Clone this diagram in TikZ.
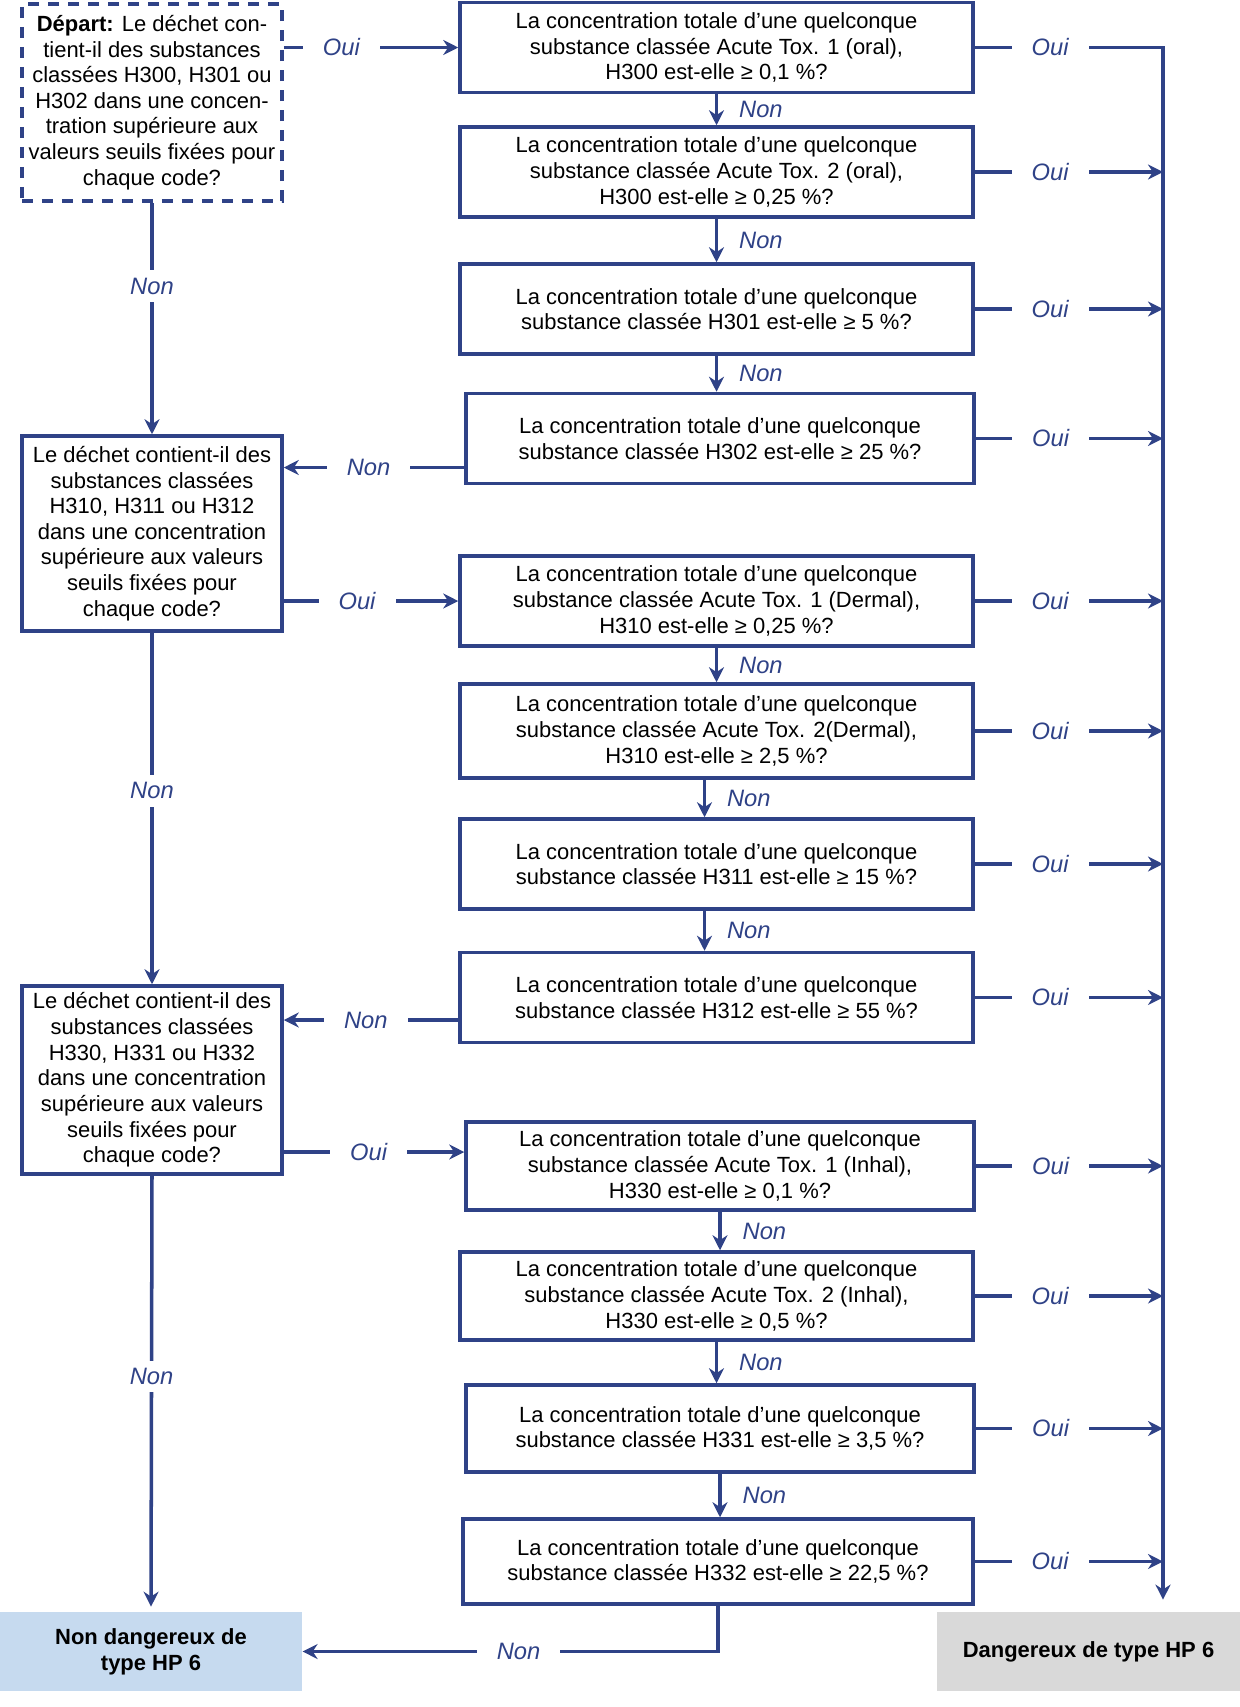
\documentclass[tikz,border=0pt]{standalone}
\usepackage{fontspec}
\setmainfont{Liberation Sans}
\usepackage{xcolor}
\usepackage{tikz}
\usetikzlibrary{arrows.meta,positioning,calc}
\definecolor{navy}{RGB}{47,66,135}
\definecolor{paleblue}{RGB}{198,218,239}
\definecolor{palegray}{RGB}{217,217,217}
\newcommand{\conc}{La concentration totale d’une quelconque\\substance classée}

\begin{document}
\begin{tikzpicture}[font=\fontsize{12.5}{14.6}\selectfont, box/.style={draw=navy, line width=2pt, align=center, minimum width=10.26cm, minimum height=1.8cm, inner sep=2pt}, qbox/.style={box, minimum width=5.2cm}, endbox/.style={align=center, font=\fontsize{12.5}{14.6}\selectfont\bfseries, minimum width=6.05cm, minimum height=1.58cm}, arr/.style={-{Stealth[length=0.3cm,width=0.3cm]}, draw=navy, line width=2pt}, lbl/.style={fill=white, text=navy, font=\fontsize{13.5}{16}\selectfont\itshape, inner xsep=0.4cm, inner ysep=0.15cm}, nlbl/.style={right, xshift=0.3cm, text=navy, font=\fontsize{13.5}{16}\selectfont\itshape}]
\useasboundingbox (0,0) rectangle (24.8,-34.14);
\coordinate (rail) at (23.26,0);
\node[qbox, dash pattern=on 0.22cm off 0.18cm, minimum height=3.94cm] (q0) at (3.04,-2.05) {\textbf{Départ:} Le déchet con-\\tient-il des substances\\classées H300, H301 ou\\H302 dans une concen-\\tration supérieure aux\\valeurs seuils fixées pour\\chaque code?};
\node[qbox, minimum height=3.9cm] (q2) at (3.04,-10.67) {Le déchet contient-il des\\substances classées\\H310, H311 ou H312\\dans une concentration\\supérieure aux valeurs\\seuils fixées pour\\chaque code?};
\node[qbox, minimum height=3.76cm] (q3) at (3.04,-21.6) {Le déchet contient-il des\\substances classées\\H330, H331 ou H332\\dans une concentration\\supérieure aux valeurs\\seuils fixées pour\\chaque code?};
\node[box] (b1) at (14.33,-0.95) {\conc{} Acute Tox. 1 (oral),\\H300 est-elle ≥ 0,1 \%?};
\node[box] (b2) at (14.33,-3.44) {\conc{} Acute Tox. 2 (oral),\\H300 est-elle ≥ 0,25 \%?};
\node[box] (b3) at (14.33,-6.18) {\conc{} H301 est-elle ≥ 5 \%?};
\node[box, minimum width=10.16cm] (b4) at (14.4,-8.77) {\conc{} H302 est-elle ≥ 25 \%?};
\node[box] (b5) at (14.33,-12.02) {\conc{} Acute Tox. 1 (Dermal),\\H310 est-elle ≥ 0,25 \%?};
\node[box, minimum height=1.88cm] (b6) at (14.33,-14.62) {\conc{} Acute Tox. 2(Dermal),\\H310 est-elle ≥ 2,5 \%?};
\node[box] (b7) at (14.33,-17.28) {\conc{} H311 est-elle ≥ 15 \%?};
\node[box] (b8) at (14.33,-19.95) {\conc{} H312 est-elle ≥ 55 \%?};
\node[box, minimum width=10.16cm, minimum height=1.76cm] (b9) at (14.4,-23.32) {\conc{} Acute Tox. 1 (Inhal),\\H330 est-elle ≥ 0,1 \%?};
\node[box, minimum height=1.76cm] (b10) at (14.33,-25.92) {\conc{} Acute Tox. 2 (Inhal),\\H330 est-elle ≥ 0,5 \%?};
\node[box, minimum width=10.16cm, minimum height=1.74cm] (b11) at (14.4,-28.57) {\conc{} H331 est-elle ≥ 3,5 \%?};
\node[box, minimum width=10.2cm, minimum height=1.7cm] (b12) at (14.36,-31.23) {\conc{} H332 est-elle ≥ 22,5 \%?};
\node[endbox, fill=paleblue] (nd) at (3.02,-33.03) {Non dangereux de\\type HP 6};
\node[endbox, fill=palegray] (dg) at (21.77,-33.03) {Dangereux de type HP 6};
\draw[arr] (q0.east |- b1.west) -- node[lbl, pos=.33] {Oui} (b1.west);
\draw[arr] (q2.east |- b5.west) -- node[lbl, pos=.42] {Oui} (b5.west);
\draw[arr] ([yshift=0.28cm]q3.east |- b9.west) -- node[lbl, pos=.47] {Oui} ([yshift=0.28cm]b9.west);
\draw[arr] ([yshift=-0.58cm]b4.west) -- node[lbl, pos=.53] {Non} ([yshift=-0.58cm]b4.west -| q2.east);
\draw[arr] ([yshift=-0.45cm]b8.west) -- node[lbl, pos=.53] {Non} ([yshift=-0.45cm]b8.west -| q3.east);
\draw[arr] (q0.south) -- node[lbl, pos=.36] {Non} (q2.north);
\draw[arr] (q2.south) -- node[lbl, pos=.45] {Non} (q3.north);
\draw[arr, shorten >=0.1cm] (q3.south) -- node[lbl, pos=.46] {Non} (nd.north);
\draw[arr] (b12.south) |- node[lbl, pos=.74] {Non} (nd.east);
\foreach \a/\b in {b1/b2, b2/b3, b3/b4, b5/b6, b9/b10, b10/b11, b11/b12}
  \draw[arr] (\a.south) -- node[nlbl] {Non} (\a.south |- \b.north);
\foreach \a/\b in {b6/b7, b7/b8}
  \draw[arr] ([xshift=-0.24cm]\a.south) -- node[nlbl] {Non} ([xshift=-0.24cm]\a.south |- \b.north);
\draw[arr, shorten >=0.24cm] (b1.east) -- node[lbl, pos=.4] {Oui} (b1.east -| rail) -- (rail |- dg.north);
\foreach \b in {b2,b3,b4,b5,b6,b7,b8,b9,b10,b11,b12}
  \draw[arr] (\b.east) -- node[lbl, pos=.4] {Oui} (\b.east -| rail);
\end{tikzpicture}
\end{document}
